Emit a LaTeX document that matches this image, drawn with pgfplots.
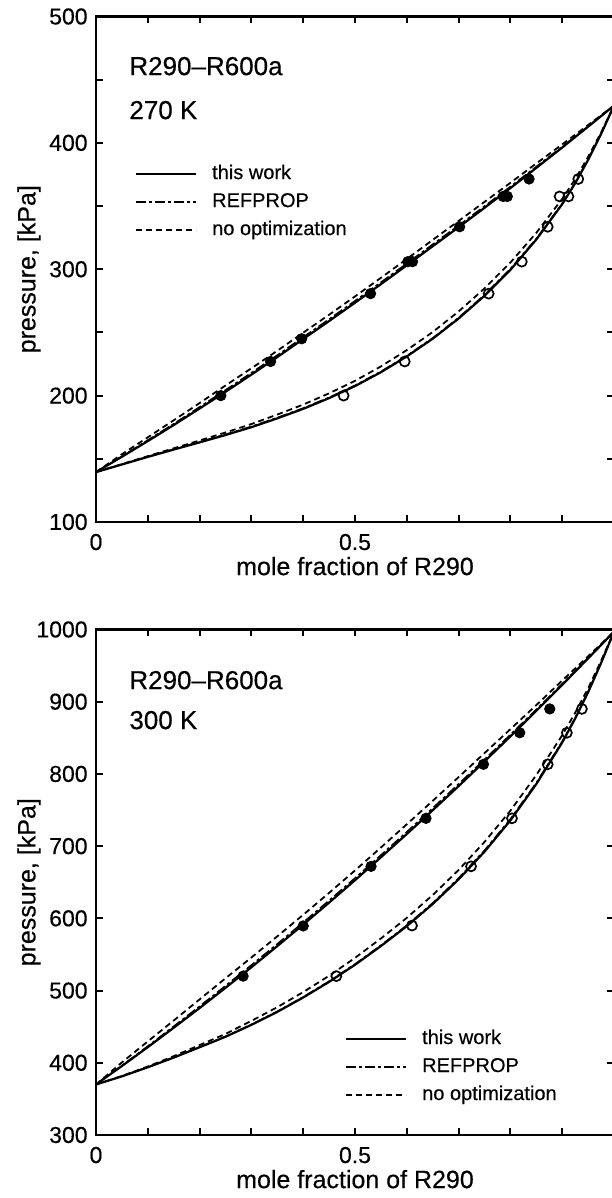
\documentclass[border=0pt]{standalone}
\usepackage{pgfplots}
\pgfplotsset{compat=1.18}
\usepackage{pgfplotstable}
\usepackage{fontspec}
\setmainfont{Liberation Sans}[FakeBold=0.4]

% 270 K bubble line (x, this work, REFPROP, no optimization)
\pgfplotstableread{
x T R N
0 139.5 139.5 139.5
0.05 151.6 152.0 153.6
0.1 164.0 164.8 167.0
0.15 176.7 177.7 180.5
0.2 189.8 191.0 194.1
0.25 203.0 204.4 208.0
0.3 216.6 218.1 221.6
0.35 230.5 232.0 235.5
0.4 244.8 246.3 249.8
0.45 259.0 260.5 264.0
0.5 273.5 275.0 278.5
0.55 288.2 289.7 293.2
0.6 303.1 304.6 308.1
0.65 318.2 319.7 323.2
0.7 333.2 334.7 338.2
0.75 348.6 349.9 353.3
0.8 364.2 365.4 368.4
0.85 380.2 381.2 383.7
0.9 396.3 397.0 398.8
0.95 412.8 413.2 414.1
1 429.5 429.5 429.5
}\topbub
% 270 K dew line
\pgfplotstableread{
x T R N
0 139.5 139.5 139.5
0.05 145.5 145.6 145.8
0.1 151.5 151.7 152.1
0.15 157.3 157.6 158.3
0.2 163.0 163.4 164.5
0.25 168.8 169.3 170.8
0.3 175.0 175.6 177.5
0.35 182.0 182.6 185.0
0.4 189.5 190.1 192.9
0.45 198.0 198.6 201.8
0.5 207.5 208.1 211.7
0.55 218.5 219.1 223.1
0.6 231.0 231.6 236.0
0.65 245.0 245.6 250.3
0.7 261.0 261.7 266.6
0.75 279.0 279.8 284.8
0.8 299.5 300.3 305.3
0.85 323.5 324.2 328.8
0.9 351.5 352.1 355.7
0.925 368.0 368.5 371.3
0.95 386.5 386.9 388.9
0.975 407.0 407.2 408.2
1 429.5 429.5 429.5
}\topdew
% 270 K experimental
\pgfplotstableread{
x P
0.241 200
0.337 227
0.397 245
0.530 280.7
0.602 306
0.611 306
0.702 333.6
0.786 357.6
0.794 357.6
0.836 371.4
}\topliq
\pgfplotstableread{
x P
0.478 200
0.596 227
0.758 280.7
0.822 306
0.872 333.6
0.895 357.6
0.912 357.6
0.931 371.4
}\topvap

% 300 K bubble line
\pgfplotstableread{
x T R N
0 370 370 370
0.05 395.5 396.2 400.5
0.1 421.6 423.1 429.6
0.15 448.5 450.5 458.5
0.2 475.8 478.3 487.8
0.25 503.8 506.6 517.0
0.3 532.3 535.3 545.8
0.35 561.6 564.6 575.1
0.4 591.4 594.4 604.9
0.45 621.8 624.8 635.3
0.5 652.8 655.8 666.3
0.55 684.6 687.6 698.1
0.6 716.8 719.8 730.3
0.65 749.7 752.7 762.7
0.7 783.1 786.1 795.6
0.75 817.3 820.0 828.8
0.8 852.0 854.5 862.0
0.85 887.3 889.3 895.3
0.9 923.3 924.8 929.3
0.95 959.9 960.7 962.9
1 997 997 997
}\botbub
% 300 K dew line
\pgfplotstableread{
x T R N
0 370 370 370
0.05 381.2 381.3 381.7
0.1 393.8 394.0 394.8
0.15 407.2 407.5 409.2
0.2 421.5 421.9 424.5
0.25 436.0 436.5 440.0
0.3 452.5 453.1 458.0
0.35 470.5 471.2 477.0
0.4 490.4 491.2 497.9
0.45 512.0 512.9 520.5
0.5 535.7 536.7 545.2
0.55 561.6 562.7 572.1
0.6 589.2 590.5 600.7
0.65 619.8 621.3 632.3
0.7 654.0 655.7 667.0
0.75 692.3 694.2 705.8
0.8 735.6 737.6 749.1
0.85 785.9 787.8 798.4
0.9 843.5 845.0 853.5
0.925 876.6 877.8 884.6
0.95 913.1 914.0 918.6
0.975 953.5 954.0 956.5
1 997 997 997
}\botdew
\pgfplotstableread{
x P
0.284 520
0.400 589.5
0.531 672
0.637 738.5
0.748 813.3
0.818 857
0.876 890
}\botliq
\pgfplotstableread{
x P
0.464 520
0.610 590
0.724 672
0.803 738.5
0.872 813.3
0.909 857
0.938 890
}\botvap

\tikzset{ann/.style={anchor=base west, inner sep=0pt, font=\fontsize{13}{14}\selectfont}}

\pgfplotsset{
  vle/.style={
    scale only axis, width=259pt, height=252.75pt,
    xmin=0, xmax=1,
    xtick={0,0.1,0.2,0.3,0.4,0.5,0.6,0.7,0.8,0.9,1},
    xticklabels={0,,,,,0.5,,,,,},
    tick align=inside, major tick length=3.5pt,
    every tick/.style={line width=1pt, black},
    axis line style={line width=1.2pt},
    /pgf/number format/assume math mode=true,
    tick label style={font=\fontsize{11.5}{12}\selectfont},
    xticklabel style={anchor=base, yshift=-14pt},
    yticklabel style={inner sep=0pt, xshift=-4pt},
    xlabel={mole fraction of R290}, ylabel={pressure, [kPa]},
    label style={font=\fontsize{12.5}{14}\selectfont},
    xlabel style={at={(axis description cs:0.5,-0.105)}, anchor=base},
    ylabel style={at={(axis description cs:-0.117,0.5)}, anchor=base},
    legend cell align=left,
    legend image code/.code={\draw[##1] (0pt,0pt) -- (30pt,0pt); \path (36.5pt,0pt);},
    legend style={draw=none, fill=none, inner sep=0pt, outer sep=0pt,
      font=\fontsize{10}{12}\selectfont, row sep=2pt,
      nodes={inner sep=1pt, text height=7.5pt, text depth=2.5pt}},
  },
  tw/.style={black, line width=1.1pt},
  rp/.style={black, line width=0.75pt, dash pattern=on 5pt off 1.5pt on 1.5pt off 1.5pt},
  no/.style={black, line width=0.9pt, dash pattern=on 3pt off 2pt},
  liq/.style={only marks, mark=*, mark size=2.6pt, black},
  vap/.style={only marks, mark=o, mark size=2.5pt, black, mark options={line width=0.85pt}},
}

\begin{document}
\begin{tikzpicture}
\begin{axis}[vle, at={(48pt,338pt)}, anchor=south west,
  ymin=100, ymax=500,
  ytick={100,150,200,250,300,350,400,450,500},
  yticklabels={100,,200,,300,,400,,500},
  legend style={at={(rel axis cs:0.0753,0.712)}, anchor=north west}]
\addplot[tw] table[x=x,y=T] {\topbub};
\addlegendentry{this work}
\addplot[rp] table[x=x,y=R] {\topbub};
\addlegendentry{REFPROP}
\addplot[no] table[x=x,y=N] {\topbub};
\addlegendentry{no optimization}
\addplot[tw, forget plot] table[x=x,y=T] {\topdew};
\addplot[rp, forget plot] table[x=x,y=R] {\topdew};
\addplot[no, forget plot] table[x=x,y=N] {\topdew};
\addplot[liq, forget plot] table[x=x,y=P] {\topliq};
\addplot[vap, forget plot] table[x=x,y=P] {\topvap};
\node[ann] at (rel axis cs:0.0637,0.884) {R290–R600a};
\node[ann] at (rel axis cs:0.0637,0.797) {270 K};
\end{axis}

\begin{axis}[vle, at={(48pt,31.5pt)}, anchor=south west,
  ymin=300, ymax=1000,
  ytick={300,400,500,600,700,800,900,1000},
  yticklabels={300,400,500,600,700,800,900,1000},
  legend style={at={(rel axis cs:0.4807,0.2136)}, anchor=north west}]
\addplot[tw] table[x=x,y=T] {\botbub};
\addlegendentry{this work}
\addplot[rp] table[x=x,y=R] {\botbub};
\addlegendentry{REFPROP}
\addplot[no] table[x=x,y=N] {\botbub};
\addlegendentry{no optimization}
\addplot[tw, forget plot] table[x=x,y=T] {\botdew};
\addplot[rp, forget plot] table[x=x,y=R] {\botdew};
\addplot[no, forget plot] table[x=x,y=N] {\botdew};
\addplot[liq, forget plot] table[x=x,y=P] {\botliq};
\addplot[vap, forget plot] table[x=x,y=P] {\botvap};
\node[ann] at (rel axis cs:0.0637,0.882) {R290–R600a};
\node[ann] at (rel axis cs:0.0637,0.803) {300 K};
\end{axis}
\pgfresetboundingbox
\path[use as bounding box] (0pt,0pt) rectangle (305.5pt,599pt);
\end{tikzpicture}
\end{document}
